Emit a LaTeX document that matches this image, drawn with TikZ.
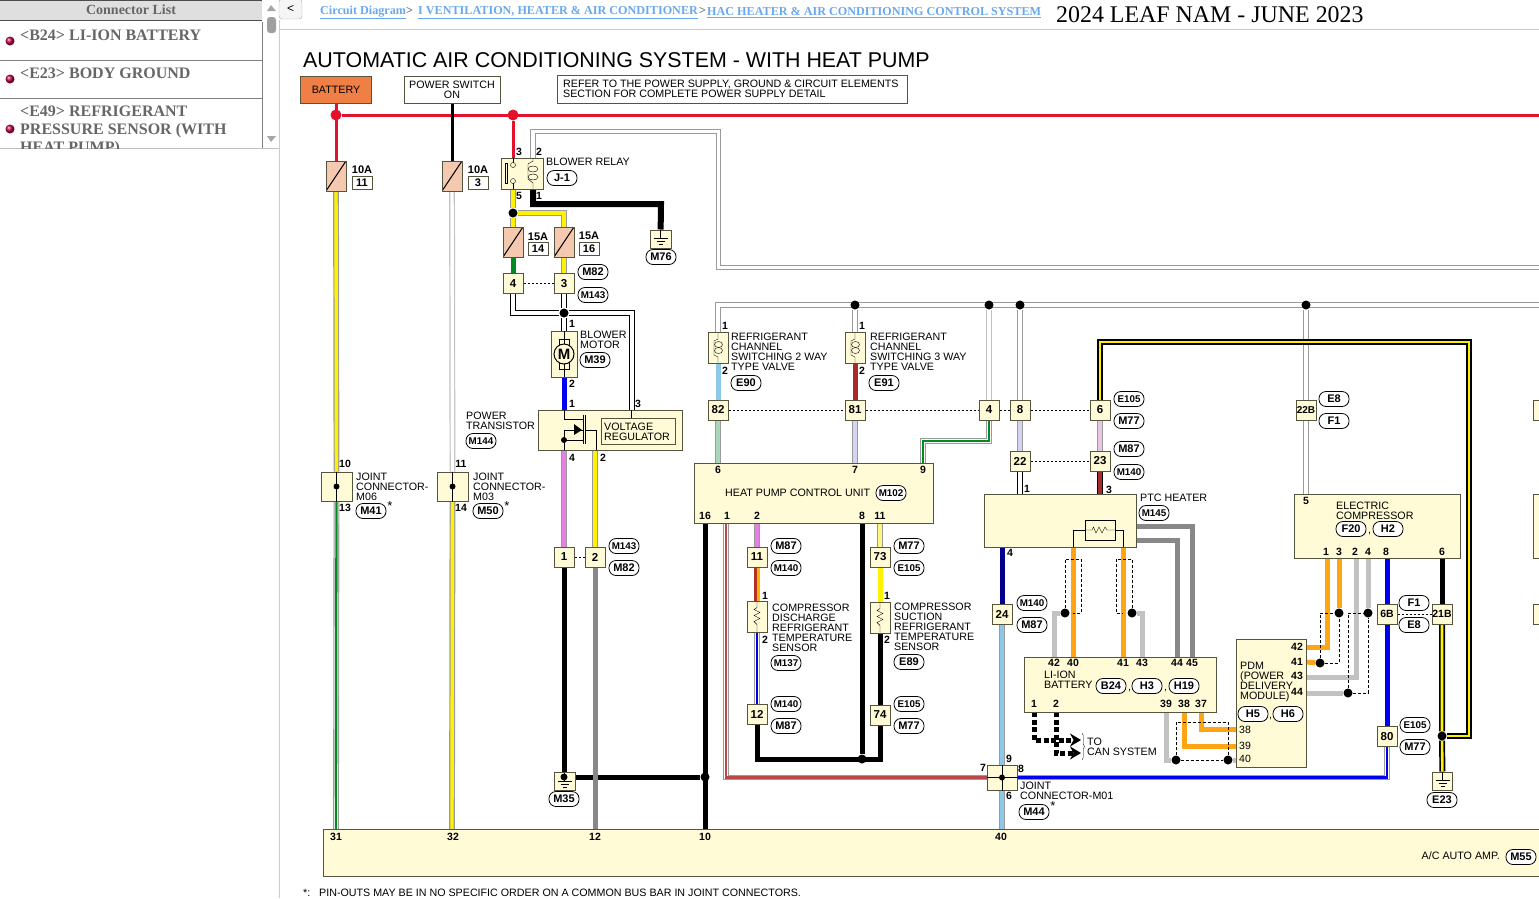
\documentclass[tikz,border=0pt]{standalone}
\usepackage{fontspec}
\setmainfont{Liberation Sans}
\newfontfamily\hdfont{Liberation Serif}
\usetikzlibrary{backgrounds,arrows.meta,decorations.pathreplacing}
\definecolor{cream}{HTML}{FFFBD6}
\definecolor{fusec}{HTML}{F5C9B0}
\definecolor{battc}{HTML}{EF7F45}
\definecolor{busred}{HTML}{E2122C}
\definecolor{orng}{HTML}{FFA514}
\definecolor{lgray}{HTML}{C2C2C2}
\definecolor{dgray}{HTML}{888888}
\definecolor{edge}{HTML}{9A9A9A}
\definecolor{boxline}{HTML}{55553F}
\definecolor{lblue}{HTML}{8CC8E8}
\definecolor{brwn}{HTML}{A82A2A}
\definecolor{navyw}{HTML}{00008C}
\definecolor{bluew}{HTML}{0000F0}
\definecolor{pinkw}{HTML}{E67FE6}
\definecolor{lpink}{HTML}{E8C8E0}
\definecolor{lavw}{HTML}{D4D4F0}
\definecolor{lgreen}{HTML}{A8D8B8}
\definecolor{greenw}{HTML}{008A20}
\definecolor{linkb}{HTML}{6AA8EE}
\definecolor{sidegray}{HTML}{666666}
\begin{document}
\begin{tikzpicture}[
    x=1pt, y=-1pt,
    lbl/.style={font=\fontsize{10.7}{10}\selectfont, align=left, anchor=west, inner sep=0},
    pin/.style={font=\bfseries\fontsize{10.5}{10}\selectfont, inner sep=0},
    unit/.style={rectangle, draw=boxline, fill=cream, line width=1pt, inner sep=0},
    conn/.style={unit, minimum size=20pt, font=\bfseries\fontsize{11.5}{10}\selectfont},
    fuse/.style={rectangle, draw=boxline, fill=fusec, line width=1pt, inner sep=0, minimum width=20pt, minimum height=30pt,
        path picture={\draw[black] (path picture bounding box.south west) -- (path picture bounding box.north east);}},
    rate/.style={font=\bfseries\fontsize{11}{10}\selectfont, inner sep=0},
    ratebox/.style={rectangle, draw=boxline, fill=white, font=\bfseries\fontsize{11}{10}\selectfont, inner sep=0, minimum width=20pt, minimum height=13pt},
    tag/.style={rectangle, rounded corners=7pt, draw=black, fill=white, line width=0.8pt, font=\bfseries\fontsize{11}{10}\selectfont, inner sep=0, minimum width=30pt, minimum height=15pt},
    tagl/.style={tag, font=\bfseries\fontsize{9.8}{10}\selectfont},
    dot/.style={circle, fill=black, inner sep=0, minimum size=9pt},
    reddot/.style={circle, fill=busred, inner sep=0, minimum size=11pt},
    solidw/.style={draw=#1, line width=5pt},
    wire/.style 2 args={draw=#1, double=#2, line width=1.2pt, double distance=3.4pt},
    thinw/.style 2 args={draw=#1, double=white, line width=1.1pt, double distance=3.6pt, postaction={draw=#2, double=none, line width=2.3pt}},
    blkyel/.style={draw=black, double=yellow, line width=1.7pt, double distance=2.6pt},
    redw/.style={draw=busred, line width=3pt},
    shield/.style={draw=black, line width=0.7pt, dash pattern=on 3pt off 2pt},
    link/.style={draw=black, line width=0.6pt, dash pattern=on 2pt off 2pt},
    canw/.style={draw=black, line width=5pt, dash pattern=on 5pt off 2.5pt, -{Stealth[length=11pt,width=13pt]}},
    sidetxt/.style={font=\hdfont\bfseries\fontsize{16}{18}\selectfont, text=sidegray, align=left, anchor=west, inner sep=0},
    linktxt/.style={font=\hdfont\bfseries\fontsize{12.15}{14}\selectfont, text=linkb, anchor=west, inner sep=0},
    sep/.style={font=\hdfont\bfseries\fontsize{12.15}{14}\selectfont, text=sidegray, anchor=west, inner sep=0},
    bullet/.style={circle, ball color=purple, inner sep=0, minimum size=9pt},
    gndsym/.pic={\draw (0,-9) -- (0,-1); \draw (-7,-1) -- (7,-1); \draw (-4,2) -- (4,2); \draw (-2,5) -- (2,5);},
    coilsym/.pic={\draw (0,-15) -- (0,-9) -- (-4,-7) -- (-4,7) -- (0,9) -- (0,15);
        \draw (0.5,-3.5) ellipse (4 and 3); \draw (0.5,2.5) ellipse (4 and 3);},
    ressym/.pic={\draw (0,-15) -- (0,-9) -- (-3,-7) -- (3,-4) -- (-3,-1) -- (3,2) -- (-3,5) -- (0,8) -- (0,15);}
]
    \useasboundingbox (0,0) rectangle (1539,898);

    % side panel
    \fill[gray!25] (0,0) rectangle (262,20);
    \draw[black!70, line width=1pt] (0,0.5) -- (262,0.5);
    \draw[black!70, line width=1pt] (0,20.5) -- (262,20.5);
    \draw[gray, line width=0.8pt] (0,60) -- (262,60);
    \draw[gray, line width=0.8pt] (0,98) -- (262,98);
    \draw[gray, line width=0.8pt] (262,22) -- (262,148);
    \draw[gray!50, line width=0.8pt] (0,148.5) -- (279,148.5);
    \draw[gray!40, line width=0.8pt] (279.5,20) -- (279.5,898);
    \draw[gray!40, line width=0.8pt] (279.5,29.5) -- (1539,29.5);
    \fill[gray!75, rounded corners=3pt] (267,17) rectangle (276,33);
    \fill[gray!70] (267,11) -- (271,5) -- (276,11) -- cycle;
    \fill[gray!70] (267,136) -- (276,136) -- (271,142) -- cycle;
    \node[sidetxt, font=\hdfont\bfseries\fontsize{14}{16}\selectfont, anchor=center] (listhead) at (131,10) {Connector List};
    \node[bullet] (b24-dot) at (10,41) {};
    \node[sidetxt] (b24-txt) at (20,35) {<B24> LI-ION BATTERY};
    \node[bullet] (e23-dot) at (10,79) {};
    \node[sidetxt] (e23-txt) at (20,73) {<E23> BODY GROUND};
    \node[bullet] (e49-dot) at (10,129) {};
    \begin{scope}
        \clip (0,99) rectangle (262,148);
        \node[sidetxt] (e49-txt) at (20,130.5) {<E49> REFRIGERANT\\PRESSURE SENSOR (WITH\\HEAT PUMP)};
    \end{scope}
    \node[rectangle, rounded corners=3pt, draw=gray!70, fill=gray!8, minimum width=23pt, minimum height=20pt, inner sep=0, font=\fontsize{12}{12}\selectfont] (backbtn) at (290.5,9) {<};

    % page head
    \node[linktxt] (lnk1) at (320,12.5) {\underline{Circuit Diagram}};
    \node[sep] (gt1) at (406,11) {>};
    \node[linktxt] (lnk2) at (418,12.5) {\underline{I VENTILATION, HEATER \& AIR CONDITIONER}};
    \node[sep] (gt2) at (699,11) {>};
    \node[linktxt] (lnk3) at (707,12.5) {\underline{HAC HEATER \& AIR CONDITIONING CONTROL SYSTEM}};
    \node[anchor=west, inner sep=0, font=\hdfont\fontsize{23.9}{26}\selectfont] (issue) at (1056,15) {2024 LEAF NAM - JUNE 2023};
    \node[anchor=west, inner sep=0, font=\fontsize{21.4}{24}\selectfont] (title) at (303,60) {AUTOMATIC AIR CONDITIONING SYSTEM - WITH HEAT PUMP};

    % supply boxes
    \node[rectangle, draw=boxline, fill=battc, line width=1pt, minimum width=71pt, minimum height=27pt, inner sep=0, font=\fontsize{10.7}{10}\selectfont] (batt) at (336,89.5) {BATTERY};
    \node[rectangle, draw=boxline, line width=1pt, minimum width=96pt, minimum height=27pt, inner sep=0, align=center, font=\fontsize{10.7}{10}\selectfont] (pwr) at (452,89.5) {POWER SWITCH\\ON};
    \node[rectangle, draw=boxline, line width=1pt, minimum width=350pt, minimum height=28pt, inner sep=0] (refbox) at (732,89) {};
    \node[lbl] (reftxt) at (563,89) {REFER TO THE POWER SUPPLY, GROUND \& CIRCUIT ELEMENTS\\SECTION FOR COMPLETE POWER SUPPLY DETAIL};
    \coordinate (busend) at (1539,115);
    \node[reddot] (dr1) at (336,115) {};
    \node[reddot] (dr2) at (513,115) {};

    % fuses
    \node[fuse] (f11) at (336,176) {};
    \node[rate] (f11-a) at (362,170) {10A};
    \node[ratebox] (f11-n) at (362,182.5) {11};
    \node[fuse] (f3) at (452,176) {};
    \node[rate] (f3-a) at (478,170) {10A};
    \node[ratebox] (f3-n) at (478,182.5) {3};
    \node[fuse] (f14) at (513,242) {};
    \node[rate] (f14-a) at (538,237) {15A};
    \node[ratebox] (f14-n) at (538,248.5) {14};
    \node[fuse] (f16) at (564,242) {};
    \node[rate] (f16-a) at (589,236) {15A};
    \node[ratebox] (f16-n) at (589,248.5) {16};

    % joint connectors
    \node[unit, minimum width=31pt, minimum height=29pt] (jm06) at (336.5,486.5) {};
    \node[pin] (pj10) at (345,464) {10};
    \node[pin] (pj13) at (345,508) {13};
    \node[lbl] (jm06-txt) at (356,487) {JOINT\\CONNECTOR-\\M06};
    \node[tag] (t-m41) at (371,511) {M41};
    \node[font=\fontsize{13}{13}\selectfont, inner sep=0] (st1) at (390,506) {*};
    \node[unit, minimum width=31pt, minimum height=29pt] (jm03) at (452.5,486.5) {};
    \node[pin] (pj11) at (461,464) {11};
    \node[pin] (pj14) at (461,508) {14};
    \node[lbl] (jm03-txt) at (473,487) {JOINT\\CONNECTOR-\\M03};
    \node[tag] (t-m50) at (488,511) {M50};
    \node[font=\fontsize{13}{13}\selectfont, inner sep=0] (st2) at (507,506) {*};

    % blower relay
    \node[unit, minimum width=42pt, minimum height=31pt] (relay) at (522,173.5) {};
    \coordinate (r3) at (513,158);
    \coordinate (r2) at (533,158);
    \coordinate (r5) at (513,189);
    \coordinate (r1) at (533,189);
    \node[pin] (pr3) at (519,152) {3};
    \node[pin] (pr2) at (539,152) {2};
    \node[pin] (pr5) at (519,196) {5};
    \node[pin] (pr1) at (539,196) {1};
    \node[lbl] (relay-txt) at (546,162) {BLOWER RELAY};
    \node[tag] (t-j1) at (562,178) {J-1};
    \node[dot] (d213) at (513,213) {};
    \coordinate (k564) at (564,213);
    \coordinate (k661) at (661,204);
    \node[unit, minimum width=21pt, minimum height=18pt] (g76) at (660.5,239) {};
    \node[tag] (t-m76) at (661,257) {M76};

    % connectors under the blower fuses
    \node[conn] (c4a) at (513,283.5) {4};
    \node[conn] (c3) at (564,283.5) {3};
    \node[tag] (t-m82a) at (593,272) {M82};
    \node[tagl] (t-m143a) at (593,295) {M143};
    \node[dot] (d313) at (564,313) {};

    % blower motor and power transistor
    \node[unit, minimum width=26pt, minimum height=46pt] (motor) at (564,354) {};
    \node[pin] (pm1) at (572,324) {1};
    \node[pin] (pm2) at (572,384) {2};
    \node[lbl] (motor-txt) at (580,340) {BLOWER\\MOTOR};
    \node[tag] (t-m39) at (595,360) {M39};
    \node[unit, minimum width=144pt, minimum height=40pt] (ptr) at (610,430) {};
    \coordinate (pt1) at (564,410);
    \coordinate (pt3) at (632,410);
    \coordinate (pt4) at (564,450);
    \coordinate (pt2) at (595,450);
    \node[pin] (pp1) at (572,404) {1};
    \node[pin] (pp3) at (638,404) {3};
    \node[pin] (pp4) at (572,458) {4};
    \node[pin] (pp2) at (603,458) {2};
    \node[lbl] (ptr-txt) at (466,421) {POWER\\TRANSISTOR};
    \node[tagl] (t-m144) at (481,441) {M144};
    \node[unit, minimum width=74pt, minimum height=26pt, line width=0.8pt] (vreg) at (638,431) {};
    \node[lbl] (vreg-txt) at (604,432) {VOLTAGE\\REGULATOR};
    \node[conn] (c1) at (564,557) {1};
    \node[conn] (c2) at (595,557) {2};
    \node[tagl] (t-m143b) at (624,546) {M143};
    \node[tag] (t-m82b) at (624,568) {M82};
    \node[unit, minimum width=21pt, minimum height=18pt] (g35) at (564.5,781) {};
    \node[tag] (t-m35) at (564,799) {M35};
    \node[dot, minimum size=7pt] (d777) at (564,777) {};
    \node[dot] (d705) at (705,777) {};

    % valves
    \node[unit, minimum width=20pt, minimum height=31pt] (v1) at (718,348) {};
    \node[pin] (pv11) at (725,326) {1};
    \node[pin] (pv12) at (725,371) {2};
    \node[lbl] (v1-txt) at (731,352) {REFRIGERANT\\CHANNEL\\SWITCHING 2 WAY\\TYPE VALVE};
    \node[tag] (t-e90) at (746,383) {E90};
    \node[unit, minimum width=20pt, minimum height=31pt] (v2) at (855,348) {};
    \node[pin] (pv21) at (862,326) {1};
    \node[pin] (pv22) at (862,371) {2};
    \node[lbl] (v2-txt) at (870,352) {REFRIGERANT\\CHANNEL\\SWITCHING 3 WAY\\TYPE VALVE};
    \node[tag] (t-e91) at (884,383) {E91};
    \coordinate (busg) at (1539,305);
    \node[dot] (dg1) at (855,305) {};
    \node[dot] (dg2) at (989,305) {};
    \node[dot] (dg3) at (1020,305) {};
    \node[dot] (dg4) at (1306,305) {};
    \coordinate (g1) at (718.5,131.5);
    \coordinate (g2) at (1539,267.5);

    % inline connectors
    \node[conn] (c82) at (718,410) {82};
    \node[conn] (c81) at (855,410) {81};
    \node[conn] (c4b) at (989,410) {4};
    \node[conn] (c8) at (1020,410) {8};
    \node[conn] (c6) at (1100,410) {6};
    \node[conn] (c22) at (1020,461) {22};
    \node[conn] (c23) at (1100,461) {23};
    \node[conn, font=\bfseries\fontsize{10}{10}\selectfont] (c22b) at (1306,410) {22B};
    \node[tagl] (t-e105a) at (1129,399) {E105};
    \node[tag] (t-m77a) at (1129,421) {M77};
    \node[tag] (t-m87a) at (1129,449) {M87};
    \node[tagl] (t-m140a) at (1129,472) {M140};
    \node[tag] (t-e8a) at (1334,399) {E8};
    \node[tag] (t-f1a) at (1334,421) {F1};
    \coordinate (gk) at (923,441);
    \coordinate (by1) at (1469,342);

    % heat pump control unit
    \node[unit, minimum width=239pt, minimum height=60pt] (hpcu) at (813.5,493) {};
    \coordinate (hp6) at (718,463);
    \coordinate (hp7) at (855,463);
    \coordinate (hp9) at (923,463);
    \coordinate (hp16) at (705,523);
    \coordinate (hp1) at (726,523);
    \coordinate (hp2) at (757,523);
    \coordinate (hp8) at (862,523);
    \coordinate (hp11) at (880,523);
    \node[pin] (ph6) at (718,470) {6};
    \node[pin] (ph7) at (855,470) {7};
    \node[pin] (ph9) at (923,470) {9};
    \node[pin] (ph16) at (705,516) {16};
    \node[pin] (ph1) at (727,516) {1};
    \node[pin] (ph2) at (757,516) {2};
    \node[pin] (ph8) at (862,516) {8};
    \node[pin] (ph11) at (880,516) {11};
    \node[lbl] (hpcu-txt) at (725,493) {HEAT PUMP CONTROL UNIT};
    \node[tagl] (t-m102) at (891,493) {M102};

    % temperature sensors
    \node[conn] (c11) at (757,557) {11};
    \node[tag] (t-m87b) at (786,546) {M87};
    \node[tagl] (t-m140b) at (786,568) {M140};
    \node[unit, minimum width=20pt, minimum height=31pt] (s1) at (757,616.5) {};
    \node[pin] (ps11) at (765,596) {1};
    \node[pin] (ps12) at (765,640) {2};
    \node[lbl] (s1-txt) at (772,628) {COMPRESSOR\\DISCHARGE\\REFRIGERANT\\TEMPERATURE\\SENSOR};
    \node[tagl] (t-m137) at (786,663) {M137};
    \node[conn] (c12) at (757,714) {12};
    \node[tagl] (t-m140c) at (786,704) {M140};
    \node[tag] (t-m87c) at (786,726) {M87};
    \node[conn] (c73) at (880,557) {73};
    \node[tag] (t-m77b) at (909,546) {M77};
    \node[tagl] (t-e105b) at (909,568) {E105};
    \node[unit, minimum width=20pt, minimum height=31pt] (s2) at (880,617.5) {};
    \node[pin] (ps21) at (887,596) {1};
    \node[pin] (ps22) at (887,640) {2};
    \node[lbl] (s2-txt) at (894,627) {COMPRESSOR\\SUCTION\\REFRIGERANT\\TEMPERATURE\\SENSOR};
    \node[tag] (t-e89) at (909,662) {E89};
    \node[conn] (c74) at (880,715) {74};
    \node[tagl] (t-e105c) at (909,704) {E105};
    \node[tag] (t-m77c) at (909,726) {M77};
    \coordinate (k759) at (880,759);
    \node[dot] (d759) at (862,759) {};

    % PTC heater
    \node[unit, minimum width=152pt, minimum height=53pt] (ptc) at (1060,520.5) {};
    \coordinate (ptc1) at (1020,494);
    \coordinate (ptc3) at (1100,494);
    \coordinate (ptc4) at (1002,547);
    \coordinate (ptca) at (1073,547);
    \coordinate (ptcb) at (1123,547);
    \coordinate (ptcg1) at (1136,526);
    \coordinate (ptcg2) at (1136,540);
    \node[pin] (pc1) at (1027,489) {1};
    \node[pin] (pc3) at (1109,490) {3};
    \node[pin] (pc4) at (1010,553) {4};
    \node[lbl] (ptc-txt) at (1140,498) {PTC HEATER};
    \node[tagl] (t-m145) at (1154,513) {M145};
    \node[conn] (c24) at (1002,614) {24};
    \node[tagl] (t-m140d) at (1032,603) {M140};
    \node[tag] (t-m87d) at (1032,625) {M87};
    \node[dot] (d1065) at (1065,613) {};
    \node[dot] (d1132) at (1132,613) {};
    \coordinate (sa) at (1081,559);
    \coordinate (sb) at (1073,613);
    \coordinate (sc) at (1116,559);
    \coordinate (sd) at (1123,613);

    % li-ion battery
    \node[unit, minimum width=192pt, minimum height=55pt] (lib) at (1120,684.5) {};
    \coordinate (lb42) at (1054,657);
    \coordinate (lb40) at (1073,657);
    \coordinate (lb41) at (1123,657);
    \coordinate (lb43) at (1142,657);
    \coordinate (lb44) at (1177,657);
    \coordinate (lb45) at (1192,657);
    \coordinate (lb1) at (1034,712);
    \coordinate (lb2) at (1056,712);
    \coordinate (lb39) at (1166,712);
    \coordinate (lb38) at (1184,712);
    \coordinate (lb37) at (1201,712);
    \node[pin] (pl42) at (1054,663) {42};
    \node[pin] (pl40) at (1073,663) {40};
    \node[pin] (pl41) at (1123,663) {41};
    \node[pin] (pl43) at (1142,663) {43};
    \node[pin] (pl44) at (1177,663) {44};
    \node[pin] (pl45) at (1192,663) {45};
    \node[pin] (pl1) at (1034,704) {1};
    \node[pin] (pl2) at (1056,704) {2};
    \node[pin] (pl39) at (1166,704) {39};
    \node[pin] (pl38) at (1184,704) {38};
    \node[pin] (pl37) at (1201,704) {37};
    \node[lbl] (lib-txt) at (1044,680) {LI-ION\\BATTERY};
    \node[tag] (t-b24) at (1111,686) {B24};
    \node[lbl] (cm1) at (1128,691) {,};
    \node[tag] (t-h3) at (1147,686) {H3};
    \node[lbl] (cm2) at (1164,691) {,};
    \node[tag] (t-h19) at (1184,686) {H19};
    \coordinate (can1) at (1081,740);
    \coordinate (can2) at (1081,753);
    \coordinate (bra) at (1082,733);
    \coordinate (brb) at (1082,760);
    \node[lbl] (can-txt) at (1087,747) {TO\\CAN SYSTEM};

    % pdm
    \node[unit, minimum width=70pt, minimum height=128pt] (pdm) at (1271,703) {};
    \coordinate (pd38) at (1236,729);
    \coordinate (pd39) at (1236,746);
    \coordinate (pd40) at (1236,760);
    \coordinate (pd42) at (1306,647);
    \coordinate (pd41) at (1306,662);
    \coordinate (pd43) at (1306,677);
    \coordinate (pd44) at (1306,693);
    \node[pin] (pp42) at (1297,647) {42};
    \node[pin] (pp41) at (1297,662) {41};
    \node[pin] (pp43) at (1297,676) {43};
    \node[pin] (pp44) at (1297,692) {44};
    \node[pin, font=\fontsize{10.5}{10}\selectfont] (pp38) at (1245,730) {38};
    \node[pin, font=\fontsize{10.5}{10}\selectfont] (pp39) at (1245,746) {39};
    \node[pin, font=\fontsize{10.5}{10}\selectfont] (pp40) at (1245,759) {40};
    \node[lbl] (pdm-txt) at (1240,682) {PDM\\(POWER\\DELIVERY\\MODULE)};
    \node[tag] (t-h5) at (1253,714) {H5};
    \node[lbl] (cm3) at (1269,719) {,};
    \node[tag] (t-h6) at (1288,714) {H6};
    \node[dot] (d1176) at (1176,760) {};
    \node[dot] (d1228) at (1228,760) {};
    \coordinate (se) at (1228,722);
    \node[dot] (d1320) at (1320,663) {};
    \node[dot] (d1339) at (1339,613) {};
    \node[dot] (d1348) at (1348,693) {};
    \node[dot] (d1368) at (1368,613) {};

    % electric compressor
    \node[unit, minimum width=166pt, minimum height=64pt] (ecomp) at (1377,526) {};
    \coordinate (ec5) at (1306,494);
    \coordinate (ec1) at (1327,558);
    \coordinate (ec3) at (1339,558);
    \coordinate (ec2) at (1356,558);
    \coordinate (ec4) at (1368,558);
    \coordinate (ec8) at (1387,558);
    \coordinate (ec6) at (1442,558);
    \node[pin] (pe5) at (1306,501) {5};
    \node[pin] (pe1) at (1326,552) {1};
    \node[pin] (pe3) at (1339,552) {3};
    \node[pin] (pe2) at (1355,552) {2};
    \node[pin] (pe4) at (1368,552) {4};
    \node[pin] (pe8) at (1386,552) {8};
    \node[pin] (pe6) at (1442,552) {6};
    \node[lbl] (ecomp-txt) at (1336,510.5) {ELECTRIC\\COMPRESSOR};
    \node[tag] (t-f20) at (1351,529) {F20};
    \node[lbl] (cm4) at (1368,534) {,};
    \node[tag] (t-h2) at (1388,529) {H2};
    \node[conn, font=\bfseries\fontsize{10.5}{10}\selectfont] (c6b) at (1387,614) {6B};
    \node[conn, font=\bfseries\fontsize{10.5}{10}\selectfont] (c21b) at (1442,614) {21B};
    \node[tag] (t-f1b) at (1414,603) {F1};
    \node[tag] (t-e8b) at (1414,625) {E8};
    \node[conn] (c80) at (1387,736.5) {80};
    \node[tagl] (t-e105d) at (1415,725) {E105};
    \node[tag] (t-m77d) at (1415,747) {M77};
    \node[dot] (d736) at (1442,736) {};
    \node[unit, minimum width=20pt, minimum height=18pt] (g23) at (1442.5,781) {};
    \node[tag] (t-e23) at (1442,800) {E23};

    % joint connector M01
    \node[unit, minimum width=30pt, minimum height=25pt] (jm01) at (1002,777.5) {};
    \node[pin] (pj9) at (1009,759) {9};
    \node[pin] (pj8) at (1021,769) {8};
    \node[pin] (pj7) at (983,768) {7};
    \node[pin] (pj6) at (1009,796) {6};
    \node[lbl] (jm01-txt) at (1020,791) {JOINT\\CONNECTOR-M01};
    \node[tag] (t-m44) at (1034,812) {M44};
    \node[font=\fontsize{13}{13}\selectfont, inner sep=0] (st3) at (1053,806) {*};

    % right edge
    \node[conn] (cr1) at (1543,410) {};
    \node[unit, minimum width=20pt, minimum height=64pt] (ur1) at (1543,526) {};
    \node[conn] (cr2) at (1543,614) {};

    % A/C auto amp
    \node[unit, minimum width=1277pt, minimum height=47pt] (amp) at (961.5,852.5) {};
    \coordinate (ac31) at (336,829);
    \coordinate (ac32) at (452,829);
    \coordinate (ac12) at (595,829);
    \coordinate (ac10) at (705,829);
    \coordinate (ac40) at (1002,829);
    \node[pin] (pa31) at (336,837) {31};
    \node[pin] (pa32) at (453,837) {32};
    \node[pin] (pa12) at (595,837) {12};
    \node[pin] (pa10) at (705,837) {10};
    \node[pin] (pa40) at (1001,837) {40};
    \node[lbl, anchor=east] (amp-txt) at (1500,856) {A/C AUTO AMP.};
    \node[tag] (t-m55) at (1521,857) {M55};
    \node[lbl] (note-st) at (303,892.5) {*:};
    \node[lbl] (note) at (319,892.5) {PIN-OUTS MAY BE IN NO SPECIFIC ORDER ON A COMMON BUS BAR IN JOINT CONNECTORS.};

    % symbols
    \pic at (660.5,239) {gndsym};
    \pic at (564.5,782) {gndsym};
    \pic at (1442.5,781) {gndsym};
    \pic at (718,348) {coilsym};
    \pic at (855,348) {coilsym};
    \pic at (757,616.5) {ressym};
    \pic at (880,617.5) {ressym};
    \draw (jm06.north) -- (jm06.south);
    \draw (jm03.north) -- (jm03.south);
    \node[dot, minimum size=6pt] (dj06) at (jm06) {};
    \node[dot, minimum size=6pt] (dj03) at (jm03) {};
    \draw (jm01.north) -- (jm01.south);
    \draw (jm01.west) -- (jm01.east);
    \node[dot, minimum size=6pt] (dj01) at (jm01) {};
    % relay inside
    \draw (513,158) -- (513,163);
    \draw (513,183) -- (513,189);
    \draw (513,165) circle (2.5);
    \draw (513,181) circle (2.5);
    \draw (505.5,163) rectangle (507.5,183);
    \draw (533,158) -- (533,161) -- (528,164) -- (528,179) -- (533,183) -- (533,189);
    \draw (533,169) ellipse (5 and 3);
    \draw (533,177) ellipse (5 and 3);
    % motor inside
    \draw (564,331) -- (564,377);
    \draw (559,339) rectangle (569,369);
    \node[circle, draw=black, fill=cream, line width=1pt, minimum size=20pt, inner sep=0, font=\bfseries\fontsize{15}{15}\selectfont] (mcirc) at (564,354) {M};
    % transistor inside
    \draw (564,410) -- (564,419) -- (583,419);
    \draw[line width=1pt] (583,415) -- (583,444);
    \draw (564,450) -- (564,430) -- (583,430);
    \draw (564,440) -- (583,440);
    \fill (574,424) -- (582,430) -- (574,435) -- cycle;
    \node[dot, minimum size=6pt] (dtr) at (564,440) {};
    \draw (585,430) -- (596,430) -- (596,450);
    \draw (585,415) -- (585,444);
    \draw (631,410) -- (631,418);
    % heater inside
    \draw (1073,547) -- (1073,530) -- (1123,530) -- (1123,547);
    \node[rectangle, draw=black, fill=cream, line width=0.8pt, minimum width=30pt, minimum height=20pt, inner sep=0] (htr) at (1100,530) {};
    \draw (1085,530) -- (1092,530) -- (1093.5,527) -- (1096,533) -- (1099,527) -- (1102,533) -- (1105,527) -- (1107,530) -- (1115,530);

    \begin{pgfonlayer}{background}
        % bus and supply
        \draw[redw] (dr1) -- (busend);
        \draw[redw] (batt) -- (f11);
        \draw[redw] (dr2) -- (r3);
        \draw[draw=black, line width=3pt] (pwr) -- (f3);
        \draw[wire={edge}{white}] (r2) |- (g1) |- (g2);
        % fuse wires
        \draw[wire={edge}{yellow}] (f11) -- (jm06);
        \draw[thinw={edge}{greenw}] (jm06) -- (ac31);
        \draw[wire={lgray}{white}] (f3) -- (jm03);
        \draw[wire={edge}{yellow}] (jm03) -- (ac32);
        % relay outputs
        \draw[wire={edge}{yellow}] (r5) -- (d213) -- (f14);
        \draw[wire={edge}{yellow}] (d213) -| (f16);
        \draw[solidw=black, line width=6pt] (r1) |- (k661) -- (g76);
        \draw[solidw=greenw] (f14) -- (c4a);
        \draw[wire={edge}{yellow}] (f16) -- (c3);
        \draw[link] (c4a) -- (c3);
        \draw[wire={black}{white}] (c4a) |- (d313);
        \draw[wire={black}{white}] (c3) -- (d313) -- (motor);
        \draw[wire={black}{white}] (d313) -| (pt3);
        \draw[solidw=bluew] (motor) -- (pt1);
        \draw[wire={edge}{pinkw}] (pt4) -- (c1);
        \draw[wire={edge}{yellow}] (pt2) -- (c2);
        \draw[link] (c1) -- (c2);
        \draw[solidw=black] (c1) -- (d777);
        \draw[solidw=black] (d777) -- (d705);
        \draw[solidw=black] (hp16) -- (ac10);
        \draw[solidw=dgray] (c2) -- (ac12);
        % gray bus and valves
        \draw[wire={edge}{white}] (v1) |- (busg);
        \draw[wire={edge}{white}] (dg1) -- (v2);
        \draw[wire={lgray}{white}] (dg2) -- (c4b);
        \draw[wire={edge}{white}] (dg3) -- (c8);
        \draw[wire={edge}{white}] (dg4) -- (ec5);
        \draw[solidw=lblue] (v1) -- (c82);
        \draw[wire={edge}{lgreen}] (c82) -- (hp6);
        \draw[solidw=brwn] (v2) -- (c81);
        \draw[wire={edge}{lavw}] (c81) -- (hp7);
        \draw[link] (c82) -- (c81) -- (c4b) -- (c8) -- (c6);
        \draw[thinw={edge}{greenw}] (c4b) |- (gk) -- (hp9);
        \draw[wire={edge}{lavw}] (c8) -- (c22);
        \draw[link] (c22) -- (c23);
        \draw[wire={black}{white}] (c22) -- (ptc1);
        \draw[wire={edge}{lpink}] (c6) -- (c23);
        \draw[wire={black}{brwn}] (c23) -- (ptc3);
        \draw[blkyel] (c6) |- (by1) |- (d736);
        % control unit to sensors
        \draw[thinw={edge}{brwn!80!pink}] (hp1) |- (jm01);
        \draw[wire={edge}{pinkw}] (hp2) -- (c11);
        \draw[draw=brwn!90!orange, line width=3pt] ([xshift=-1.5pt]c11.south) -- ([xshift=-1.5pt]s1.north);
        \draw[draw=orange!60!yellow, line width=3pt] ([xshift=1.5pt]c11.south) -- ([xshift=1.5pt]s1.north);
        \draw[thinw={edge}{bluew}] (s1) -- (c12);
        \draw[solidw=black] (c12) |- (k759) -- (c74);
        \draw[solidw=black] (hp8) -- (d759);
        \draw[wire={edge}{yellow!50}] (hp11) -- (c73);
        \draw[solidw=yellow] (c73) -- (s2);
        \draw[solidw=black] (s2) -- (c74);
        % ptc heater
        \draw[solidw=navyw] (ptc4) -- (c24);
        \draw[wire={edge}{lblue}] (c24) -- (jm01) -- (ac40);
        \draw[thinw={edge}{bluew}] (c80) |- (jm01);
        \draw[solidw=orng] (ptca) -- (lb40);
        \draw[solidw=orng] (ptcb) -- (lb41);
        \draw[solidw=dgray] (ptcg1) -| (lb45);
        \draw[solidw=dgray] (ptcg2) -| (lb44);
        \draw[solidw=lgray] (d1065) -| (lb42);
        \draw[solidw=lgray] (d1132) -| (lb43);
        \draw[shield] (d1065) |- (sa) |- (sb);
        \draw[shield] (d1132) |- (sc) |- (sd);
        % battery to pdm
        \draw[solidw=orng] (lb37) |- (pd38);
        \draw[solidw=orng] (lb38) |- (pd39);
        \draw[solidw=lgray] (lb39) |- (d1176);
        \draw[solidw=lgray] (d1228) -- (pd40);
        \draw[shield] (d1176) -- (d1228);
        \draw[shield] (d1176) |- (se) -- (d1228);
        \draw[canw] (lb1) |- (can1);
        \draw[canw] (lb2) |- (can2);
        \draw[decorate, decoration={brace, amplitude=2.5pt}] (bra) -- (brb);
        % pdm to compressor
        \draw[solidw=orng] (pd42) -| (ec1);
        \draw[solidw=orng] (pd41) -- (d1320);
        \draw[solidw=orng] (d1339) -- (ec3);
        \draw[solidw=lgray] (pd43) -| (ec2);
        \draw[solidw=lgray] (pd44) -- (d1348);
        \draw[solidw=lgray] (d1368) -- (ec4);
        \draw[shield] (d1320) |- (d1339);
        \draw[shield] (d1320) -| (d1339);
        \draw[shield] (d1348) |- (d1368);
        \draw[shield] (d1348) -| (d1368);
        \draw[solidw=bluew] (ec8) -- (c6b) -- (c80);
        \draw[solidw=black] (ec6) -- (c21b);
        \draw[link] (c6b) -- (c21b);
        \draw[blkyel] (c21b) -- (d736) -- (g23);
    \end{pgfonlayer}
\end{tikzpicture}
\end{document}
